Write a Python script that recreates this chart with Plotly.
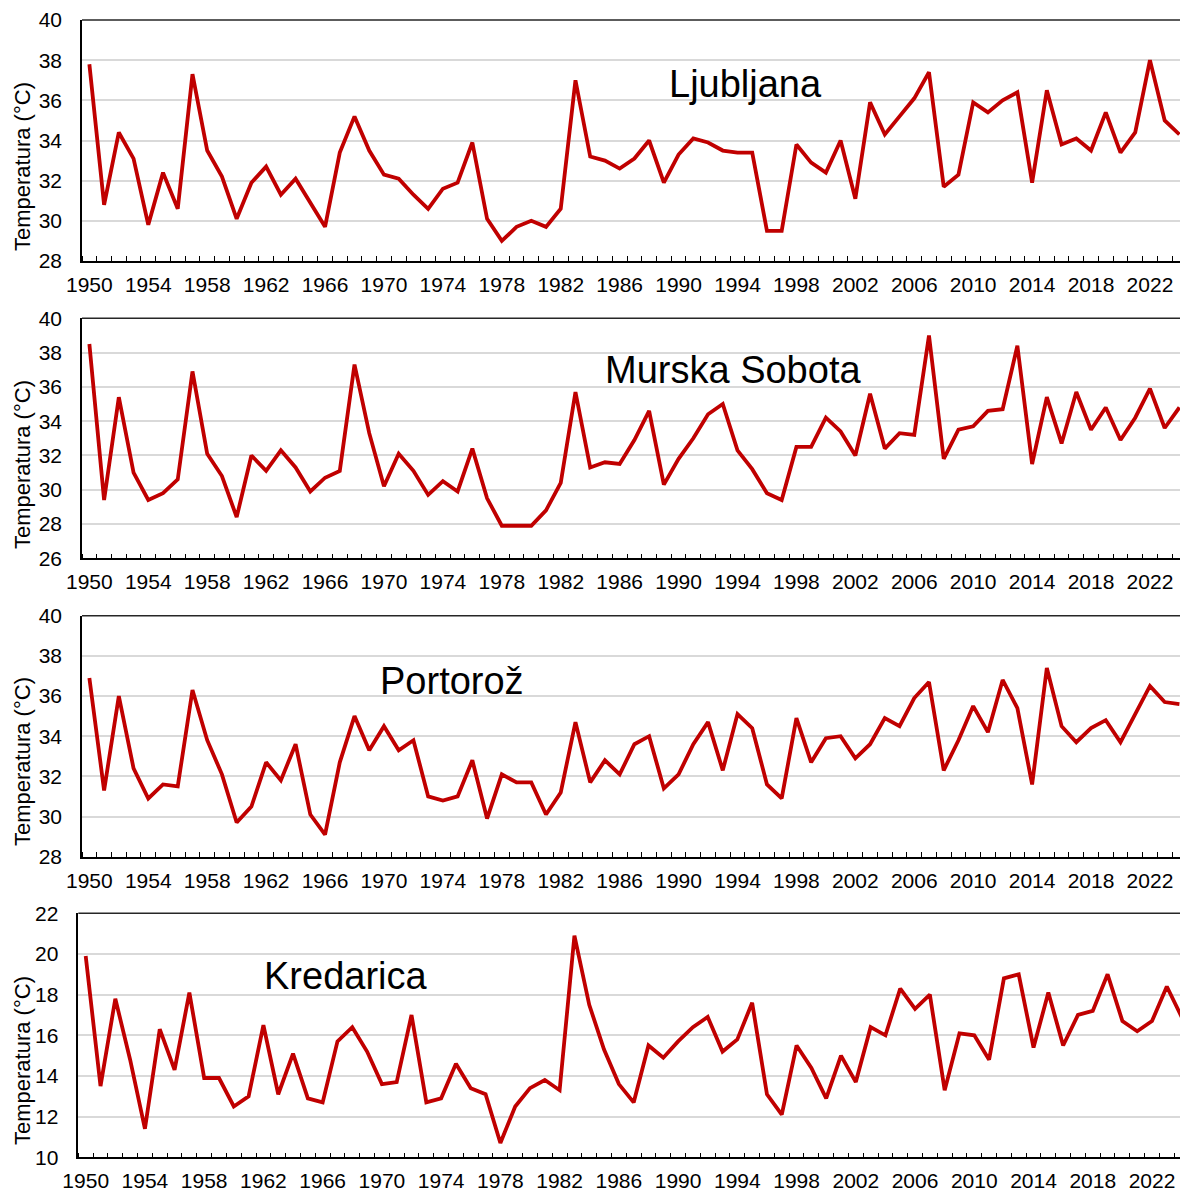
import plotly.graph_objects as go

years = list(range(1950, 2025))

ljubljana = [37.8, 30.8, 34.4, 33.1, 29.8, 32.4, 30.6, 37.3, 33.5, 32.2,
             30.1, 31.9, 32.7, 31.3, 32.1, 30.9, 29.7, 33.4, 35.2, 33.5,
             32.3, 32.1, 31.3, 30.6, 31.6, 31.9, 33.9, 30.1, 29.0, 29.7,
             30.0, 29.7, 30.6, 37.0, 33.2, 33.0, 32.6, 33.1, 34.0, 31.9,
             33.3, 34.1, 33.9, 33.5, 33.4, 33.4, 29.5, 29.5, 33.8, 32.9,
             32.4, 34.0, 31.1, 35.9, 34.3, 35.2, 36.1, 37.4, 31.7, 32.3,
             35.9, 35.4, 36.0, 36.4, 31.9, 36.5, 33.8, 34.1, 33.5, 35.4,
             33.4, 34.4, 38.0, 35.0, 34.3]

murska_sobota = [38.5, 29.4, 35.4, 31.0, 29.4, 29.8, 30.6, 36.9, 32.1, 30.8,
                 28.4, 32.0, 31.1, 32.3, 31.3, 29.9, 30.7, 31.1, 37.3, 33.3,
                 30.2, 32.1, 31.1, 29.7, 30.5, 29.9, 32.4, 29.5, 27.9, 27.9,
                 27.9, 28.8, 30.4, 35.7, 31.3, 31.6, 31.5, 32.9, 34.6, 30.3,
                 31.8, 33.0, 34.4, 35.0, 32.3, 31.2, 29.8, 29.4, 32.5, 32.5,
                 34.2, 33.4, 32.0, 35.6, 32.4, 33.3, 33.2, 39.0, 31.8, 33.5,
                 33.7, 34.6, 34.7, 38.4, 31.5, 35.4, 32.7, 35.7, 33.5, 34.8,
                 32.9, 34.2, 35.9, 33.6, 34.8]

portoroz = [36.9, 31.3, 36.0, 32.4, 30.9, 31.6, 31.5, 36.3, 33.8, 32.1,
            29.7, 30.5, 32.7, 31.8, 33.6, 30.1, 29.1, 32.7, 35.0, 33.3,
            34.5, 33.3, 33.8, 31.0, 30.8, 31.0, 32.8, 29.9, 32.1, 31.7,
            31.7, 30.1, 31.2, 34.7, 31.7, 32.8, 32.1, 33.6, 34.0, 31.4,
            32.1, 33.6, 34.7, 32.3, 35.1, 34.4, 31.6, 30.9, 34.9, 32.7,
            33.9, 34.0, 32.9, 33.6, 34.9, 34.5, 35.9, 36.7, 32.3, 33.8,
            35.5, 34.2, 36.8, 35.4, 31.6, 37.4, 34.5, 33.7, 34.4, 34.8,
            33.7, 35.1, 36.5, 35.7, 35.6]

kredarica = [19.9, 13.5, 17.8, 14.8, 11.4, 16.3, 14.3, 18.1, 13.9, 13.9,
             12.5, 13.0, 16.5, 13.1, 15.1, 12.9, 12.7, 15.7, 16.4, 15.2,
             13.6, 13.7, 17.0, 12.7, 12.9, 14.6, 13.4, 13.1, 10.7, 12.5,
             13.4, 13.8, 13.3, 20.9, 17.5, 15.3, 13.6, 12.7, 15.5, 14.9,
             15.7, 16.4, 16.9, 15.2, 15.8, 17.6, 13.1, 12.1, 15.5, 14.4,
             12.9, 15.0, 13.7, 16.4, 16.0, 18.3, 17.3, 18.0, 13.3, 16.1,
             16.0, 14.8, 18.8, 19.0, 15.4, 18.1, 15.5, 17.0, 17.2, 19.0,
             16.7, 16.2, 16.7, 18.4, 16.9]

stations = ["Ljubljana", "Murska Sobota", "Portorož", "Kredarica"]
series = [ljubljana, murska_sobota, portoroz, kredarica]
y_ranges = [[28, 40], [26, 40], [28, 40], [10, 22]]
y_title = "Temperatura (°C)"
tick_years = list(range(1950, 2023, 4))

W, H = 1180, 1191
FONT = "Liberation Sans, Arial, sans-serif"
LINE_COLOR = "#C00000"

# geometry in page pixels
panels = [
    dict(left=82, top=20, bottom=261, xmax=2024.04),
    dict(left=82, top=318.3, bottom=558.3, xmax=2024.04),
    dict(left=82, top=615.7, bottom=856.7, xmax=2024.04),
    dict(left=78.3, top=913.3, bottom=1157.3, xmax=2023.89),
]
label_pos = [(745, 84), (733, 370), (452, 681), (345, 976)]
ytitle_center = [167, 465, 762, 1061]


def px(x):
    return x / W


def py(y):
    return 1 - y / H


fig = go.Figure()
for i, (name, vals, yr, p) in enumerate(zip(stations, series, y_ranges, panels)):
    n = i + 1
    xa = "x" if n == 1 else f"x{n}"
    ya = "y" if n == 1 else f"y{n}"
    fig.add_trace(go.Scatter(x=years, y=vals, mode="lines",
                             line=dict(color=LINE_COLOR, width=3.8),
                             xaxis=xa, yaxis=ya, showlegend=False,
                             hoverinfo="x+y"))
    xkey = "xaxis" if n == 1 else f"xaxis{n}"
    ykey = "yaxis" if n == 1 else f"yaxis{n}"
    fig.layout[xkey] = dict(
        domain=[px(p["left"]), 1.0],
        range=[1949.5, p["xmax"]],
        anchor=ya, automargin=False,
        tickmode="array", tickvals=tick_years,
        ticktext=[str(t) for t in tick_years],
        ticks="", showgrid=False, zeroline=False,
        showline=True, linecolor="black", linewidth=1.5,
        tickfont=dict(family=FONT, size=21, color="black"),
        ticklabelstandoff=4,
        minor=dict(ticks="inside", tickvals=[y + 0.5 for y in range(1949, 2025)],
                   ticklen=5, tickwidth=1.3, tickcolor="black", showgrid=False),
    )
    fig.layout[ykey] = dict(
        domain=[py(p["bottom"]), py(p["top"])],
        range=yr, dtick=2, anchor=xa, automargin=False,
        showgrid=True, gridcolor="#d9d9d9", gridwidth=1.5,
        zeroline=False, showline=True, linecolor="black", linewidth=1.5,
        ticks="", tickfont=dict(family=FONT, size=21, color="black"),
        ticklabelstandoff=14,
    )
    fig.add_shape(type="line", xref=f"{xa} domain", yref=f"{ya} domain",
                  x0=0, x1=1, y0=1, y1=1, line=dict(color="#262626", width=1.5))
    lx, ly = label_pos[i]
    fig.add_annotation(text=name, xref="paper", yref="paper",
                       x=px(lx), y=py(ly), xanchor="center", yanchor="middle",
                       showarrow=False, font=dict(family=FONT, size=38, color="black"))
    fig.add_annotation(text=y_title, xref="paper", yref="paper",
                       x=px(22), y=py(ytitle_center[i]), xanchor="center",
                       yanchor="middle", textangle=-90, showarrow=False,
                       font=dict(family=FONT, size=22, color="black"))

fig.update_layout(template="none", width=W, height=H,
                  margin=dict(l=0, r=0, t=0, b=0, autoexpand=False),
                  paper_bgcolor="white", plot_bgcolor="white")
fig.write_html("out.html",
               config={"displayModeBar": False},
               post_script="document.body.style.margin='0';"
                           "document.body.style.overflow='hidden';")
